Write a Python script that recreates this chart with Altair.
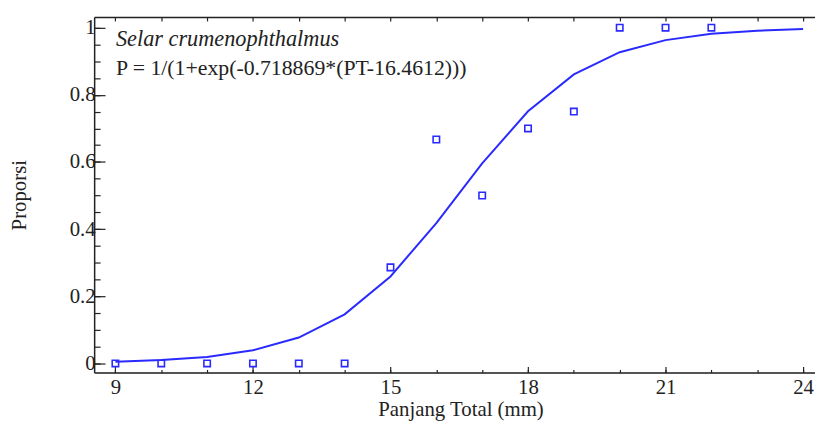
import altair as alt
import pandas as pd

# observed proportions
obs_len = [9, 10, 11, 12, 13, 14, 15, 16, 17, 18, 19, 20, 21, 22]
obs_prop = [0, 0, 0, 0, 0, 0, 0.286, 0.667, 0.5, 0.7, 0.75, 1, 1, 1]

# fitted logistic curve (read at integer lengths)
fit_len = [9, 10, 11, 12, 13, 14, 15, 16, 17, 18, 19, 20, 21, 22, 23, 24]
fit_prop = [0.005, 0.010, 0.019, 0.039, 0.077, 0.146, 0.259, 0.418, 0.596,
            0.751, 0.861, 0.927, 0.963, 0.982, 0.991, 0.996]

species = "Selar crumenophthalmus"
equation = "P = 1/(1+exp(-0.718869*(PT-16.4612)))"

x_major = [9, 12, 15, 18, 21, 24]
x_minor = list(range(9, 25))
y_major = [0, 0.2, 0.4, 0.6, 0.8, 1]
y_minor = [0, 0.05, 0.1, 0.15, 0.2, 0.25, 0.3, 0.35, 0.4, 0.45, 0.5, 0.55,
           0.6, 0.65, 0.7, 0.75, 0.8, 0.85, 0.9, 0.95, 1]

FONT = "Liberation Serif"
BLUE = "#2a2aff"
INK = "#222222"

xs = alt.Scale(domain=[8.536, 24.26], nice=False, zero=False)
ys = alt.Scale(domain=[-0.027, 1.032], nice=False, zero=False)

obs = pd.DataFrame({"len": obs_len, "prop": obs_prop})
fit = pd.DataFrame({"len": fit_len, "prop": fit_prop})

common_axis = dict(labelFont=FONT, titleFont=FONT, labelColor=INK, titleColor=INK,
                   tickColor=INK, domainColor=INK, domainWidth=1.5, tickWidth=1.2,
                   grid=False, labelFontSize=21, titleFontSize=21,
                   titleFontWeight="normal")

line = alt.Chart(fit).mark_line(color=BLUE, strokeWidth=2).encode(
    x=alt.X("len:Q", scale=xs, axis=alt.Axis(
        orient="bottom", values=x_major, tickSize=alt.ExprRef(expr="-6"), labelPadding=10,
        title="Panjang Total (mm)", domain=True, titleX=370, titleY=43,
        titleAlign="center", titleBaseline="alphabetic", **common_axis)),
    y=alt.Y("prop:Q", scale=ys, axis=alt.Axis(
        orient="left", values=y_major, tickSize=alt.ExprRef(expr="-11"), labelPadding=10,
        labelExpr="datum.value == 0 ? '0' : datum.value == 1 ? '1' : format(datum.value, '.1f')",
        title="Proporsi", domain=True, titleX=-75, titleY=179.5, titleAngle=270,
        titleAlign="center", titleBaseline="middle", **common_axis)),
)

pts = alt.Chart(obs).mark_point(shape="square", filled=False, color=BLUE,
                                size=42, strokeWidth=1.6, opacity=1).encode(
    x=alt.X("len:Q", scale=xs, axis=alt.Axis(
        orient="bottom", values=x_minor, tickSize=alt.ExprRef(expr="-3"), labels=False,
        domain=False, title=None, **common_axis)),
    y=alt.Y("prop:Q", scale=ys, axis=alt.Axis(
        orient="left", values=y_minor, tickSize=alt.ExprRef(expr="-6"), labels=False,
        domain=False, title=None, **common_axis)),
)

top = alt.Chart(obs).mark_point(opacity=0).encode(
    x=alt.X("len:Q", scale=xs, axis=alt.Axis(
        orient="top", values=x_minor, tickSize=alt.ExprRef(expr="-4"), labels=False,
        domain=True, title=None, **common_axis)),
    y=alt.Y("prop:Q", scale=ys, axis=None),
)

t1 = alt.Chart(pd.DataFrame({"t": [species]})).mark_text(
    font=FONT, fontSize=22.5, fontStyle="italic", align="left", baseline="alphabetic",
    color=INK).encode(text="t:N", x=alt.value(22), y=alt.value(29))

t2 = alt.Chart(pd.DataFrame({"t": [equation]})).mark_text(
    font=FONT, fontSize=22, align="left", baseline="alphabetic",
    color=INK).encode(text="t:N", x=alt.value(22), y=alt.value(59))

chart = alt.layer(line, pts, top, t1, t2).resolve_axis(
    x="independent", y="independent"
).properties(
    width=728, height=359,
    autosize=alt.AutoSizeParams(type="none"),
    padding={"left": 87, "top": 7, "right": 0, "bottom": 48},
).configure_view(stroke=None).configure(background="white")

chart.save("out.html", embed_options={"renderer": "svg", "actions": False})
